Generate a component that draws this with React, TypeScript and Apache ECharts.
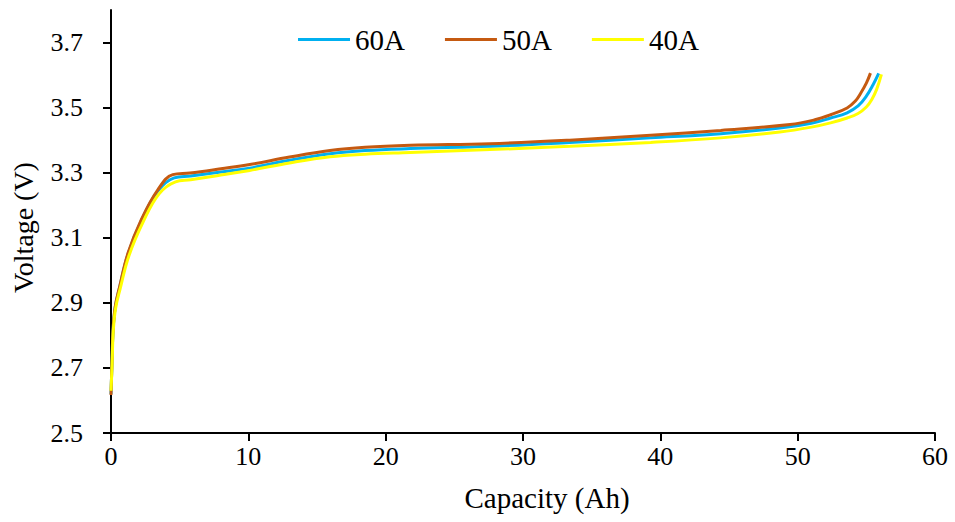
import React, { useEffect, useRef } from "react";
import * as echarts from "echarts";

const seriesNames = ["60A", "50A", "40A"];
const seriesColors = ["#00B0F0", "#C55A11", "#FFFF00"];

const cap60 = [0, 0.07, 0.15, 0.31, 0.63, 1.24, 2.2, 3.42, 4.6, 5.8, 8, 10.1, 13, 15.95, 18.5, 21.8, 27.6, 33.4, 39.3, 44.4, 48.7, 51, 52.4, 53.6, 54.4, 55.0, 55.5, 55.9];
const volt60 = [2.62, 2.715, 2.815, 2.887, 2.948, 3.05, 3.152, 3.244, 3.284, 3.29, 3.302, 3.314, 3.338, 3.358, 3.368, 3.374, 3.381, 3.393, 3.407, 3.42, 3.437, 3.452, 3.468, 3.484, 3.505, 3.535, 3.571, 3.605];

const cap50 = [0, 0.07, 0.15, 0.31, 0.63, 1.24, 2.2, 3.42, 4.5, 5.75, 8, 10.1, 13, 15.95, 18.5, 21.8, 27.6, 33.4, 39.3, 44.4, 49.45, 51.2, 52.4, 53.6, 54.2, 54.6, 55.0, 55.3];
const volt50 = [2.617, 2.715, 2.817, 2.889, 2.95, 3.053, 3.155, 3.248, 3.294, 3.299, 3.312, 3.325, 3.348, 3.368, 3.378, 3.384, 3.389, 3.4, 3.415, 3.43, 3.448, 3.462, 3.478, 3.499, 3.52, 3.545, 3.575, 3.606];

const cap40 = [0, 0.08, 0.16, 0.33, 0.66, 1.3, 2.3, 3.5, 4.7, 5.8, 8, 10.1, 13, 15.95, 18.5, 21.8, 27.6, 33.4, 39.3, 44.4, 48.7, 51, 52.4, 53.6, 54.4, 55.0, 55.4, 55.75, 56.1];
const volt40 = [2.63, 2.71, 2.81, 2.882, 2.942, 3.044, 3.145, 3.235, 3.272, 3.278, 3.293, 3.307, 3.33, 3.349, 3.357, 3.362, 3.371, 3.381, 3.393, 3.407, 3.425, 3.44, 3.453, 3.468, 3.482, 3.502, 3.525, 3.556, 3.602];

const yTicks = [2.5, 2.7, 2.9, 3.1, 3.3, 3.5, 3.7];

const zip = (xs: number[], ys: number[]) => xs.map((x, i) => [x, ys[i]]);
const seriesData = [zip(cap60, volt60), zip(cap50, volt50), zip(cap40, volt40)];

export default function App() {
  const ref = useRef<HTMLDivElement>(null);
  useEffect(() => {
    if (!ref.current) return;
    const chart = echarts.init(ref.current, undefined, { renderer: "svg" });
    chart.setOption({
      animation: false,
      backgroundColor: "#ffffff",
      grid: { left: 111, right: 20, top: 10, bottom: 89, outerBoundsMode: "none" },
      legend: {
        data: seriesNames,
        left: 298,
        top: 25,
        padding: 0,
        icon: "rect",
        itemWidth: 52,
        itemHeight: 3,
        itemGap: 40,
        textStyle: { fontFamily: "Liberation Serif", fontSize: 29, color: "#000" },
      },
      xAxis: {
        type: "value",
        min: 0,
        max: 60,
        interval: 10,
        name: "Capacity (Ah)",
        nameLocation: "middle",
        nameGap: 50,
        nameTextStyle: { fontFamily: "serif", fontSize: 29, color: "#000", padding: [0, 0, 0, 48] },
        axisLine: { show: true, onZero: false, lineStyle: { color: "#000", width: 2 } },
        axisTick: { show: true, inside: false, length: 8, lineStyle: { color: "#000", width: 2 } },
        axisLabel: { color: "#000", fontFamily: "Times New Roman", fontSize: 26, margin: 10 },
        splitLine: { show: false },
      },
      yAxis: {
        type: "value",
        min: 2.5,
        max: 3.8,
        interval: 0.2,
        name: "Voltage (V)",
        nameLocation: "middle",
        nameGap: 74,
        nameTextStyle: { fontFamily: "Times", fontSize: 28, color: "#000", padding: [0, 12, 0, 0] },
        axisLine: { show: true, onZero: false, lineStyle: { color: "#000", width: 2 } },
        axisTick: { show: true, inside: false, length: 8, lineStyle: { color: "#000", width: 2 }, customValues: yTicks },
        axisLabel: {
          color: "#000",
          fontFamily: "Liberation Serif",
          fontSize: 26,
          margin: 28,
          customValues: yTicks,
          formatter: (v: number) => v.toFixed(1),
        },
        splitLine: { show: false },
      },
      series: seriesNames.map((name, i) => ({
        name,
        type: "line",
        data: seriesData[i],
        smooth: 0.4,
        showSymbol: false,
        symbol: "none",
        color: seriesColors[i],
        lineStyle: { color: seriesColors[i], width: 3 },
      })),
    });
    return () => chart.dispose();
  }, []);
  return (
    <div
      ref={ref}
      style={{ position: "absolute", left: 0, top: 0, width: 955, height: 522 }}
    />
  );
}
